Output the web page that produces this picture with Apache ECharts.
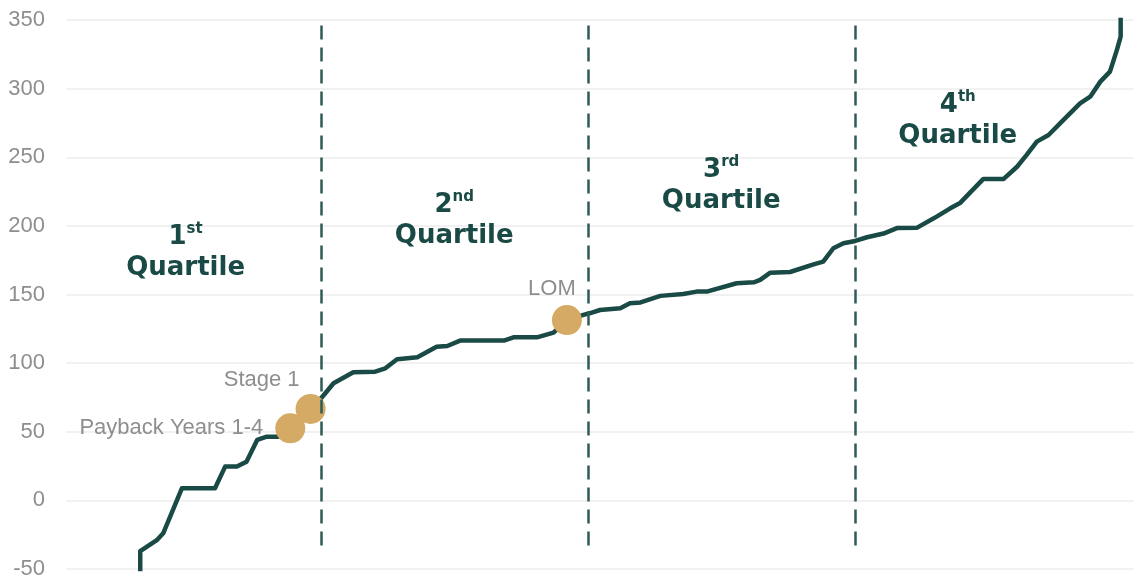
<!DOCTYPE html>
<html>
<head>
<meta charset="utf-8">
<script src="https://cdn.jsdelivr.net/npm/echarts@6/dist/echarts.min.js"></script>
<style>
  html, body { margin: 0; padding: 0; background: #fff; }
  #chart { width: 1134px; height: 583px; }
</style>
</head>
<body>
<div id="chart"></div>
<script>
// cost curve, x = percentile of producers, y = cost
const curveX = [8.05, 8.05, 9.6, 10.2, 11.95, 15.05, 16.0, 17.1, 18.0, 19.0, 19.9, 21.0, 22.1, 24.0,
  25.05, 26.15, 28.0, 30.05, 31.0, 32.1, 34.0, 35.8, 36.8, 38.0, 42.1, 43.0, 45.2, 46.75, 48.0,
  49.55, 50.2, 51.1, 53.0, 53.9, 54.9, 56.75, 58.9, 60.15, 61.1, 63.9, 65.5, 66.1, 67.05, 68.9,
  71.1, 72.0, 72.95, 73.9, 75.0, 76.1, 77.65, 78.9, 80.8, 82.35, 83.9, 84.85, 85.75, 87.0, 88.9,
  90.15, 91.05, 92.0, 93.1, 94.5, 96.05, 97.0, 97.95, 98.85, 99.5, 99.85, 99.85];
const curveY = [-60, -37, -29, -24, 8.8, 8.8, 24.6, 24.6, 28.2, 44, 46.4, 46.4, 52.5, 66.6,
  75, 85.3, 93.4, 93.8, 96.2, 102.8, 104.3, 112, 112.5, 116.4, 116.4, 118.8, 118.8, 122.2, 131.4,
  135.1, 136.5, 138.7, 140, 143.6, 144.2, 149, 150.4, 152.1, 152.1, 158.2, 158.9, 160.6, 165.9, 166.4,
  172, 173.9, 183.7, 187.3, 189, 191.7, 194.4, 198.4, 198.7, 205.5, 212.8, 216.9, 224.2, 234.2, 234.2,
  243.1, 251.7, 261.4, 266.2, 277.2, 289.3, 294.1, 305.1, 312.4, 328.2, 337.9, 370];

const markerNames = ["Payback Years 1-4", "Stage 1", "LOM"];
const markerX = [22.1, 24.0, 48.0];
const markerY = [52.5, 66.6, 131.4];

const quartileLines = [25, 50, 75];
const quartileLineRange = [-38, 346];

const quartileNums = ["1", "2", "3", "4"];
const quartileSups = ["st", "nd", "rd", "th"];
const quartileLabelX = [12.3, 37.45, 62.45, 84.6];
const quartileLabelY = [180.3, 203.6, 229.4, 276.4];

const yTicks = { min: -50, max: 350, interval: 50 };

const DARK = "#1a4a45";
const GOLD = "#d5aa64";
const GREY = "#8e8e8e";

const chart = echarts.init(document.getElementById("chart"), null, { renderer: "canvas" });

const markerLabelStyle = [
  { position: "left", distance: 12, offset: [0, 0] },
  { position: "left", distance: 0, offset: [4, -29] },
  { position: "top", distance: 5, offset: [-15, 0] }
];

const qFont = { fontWeight: "bold", color: DARK, fontFamily: "DejaVu Sans", lineHeight: 31 };

chart.setOption({
  animation: false,
  backgroundColor: "#fff",
  grid: { left: 66, right: 0, top: 20, bottom: 14 },
  xAxis: {
    type: "value",
    min: 1.1,
    max: 101.1,
    show: false
  },
  yAxis: {
    type: "value",
    min: yTicks.min,
    max: yTicks.max,
    interval: yTicks.interval,
    axisLine: { show: false },
    axisTick: { show: false },
    axisLabel: {
      color: GREY,
      fontSize: 22,
      fontFamily: "Liberation Sans, Arial, sans-serif",
      margin: 21
    },
    splitLine: { lineStyle: { color: "#ececec", width: 1.5 } }
  },
  series: [
    {
      type: "line",
      data: curveX.map((x, i) => [x, curveY[i]]),
      showSymbol: false,
      symbol: "none",
      clip: true,
      lineStyle: { color: DARK, width: 4.5, join: "round", cap: "round" },
      markLine: {
        silent: true,
        symbol: "none",
        label: { show: false },
        lineStyle: { color: "#2f5b56", width: 2.5, type: [14, 8], opacity: 1 },
        data: quartileLines.map(x => [
          { coord: [x, quartileLineRange[1]] },
          { coord: [x, quartileLineRange[0]] }
        ])
      },
      z: 2
    },
    {
      type: "scatter",
      symbolSize: 30,
      itemStyle: { color: GOLD, opacity: 1 },
      z: 3,
      data: markerNames.map((name, i) => ({
        name,
        value: [markerX[i], markerY[i]],
        label: {
          show: true,
          formatter: name,
          color: GREY,
          fontSize: 22,
          fontFamily: "Liberation Sans, Arial, sans-serif",
          ...markerLabelStyle[i]
        }
      }))
    },
    {
      type: "scatter",
      symbolSize: 0,
      silent: true,
      itemStyle: { opacity: 1 },
      z: 4,
      data: quartileNums.map((n, i) => ({
        value: [quartileLabelX[i], quartileLabelY[i]],
        label: {
          show: true,
          position: "inside",
          opacity: 1,
          formatter: `{n|${n}}{s|${quartileSups[i]}}\n{q|Quartile}`,
          rich: {
            n: { ...qFont, fontSize: 26 },
            s: { ...qFont, fontSize: 15, verticalAlign: "top" },
            q: { ...qFont, fontSize: 26 }
          }
        }
      }))
    }
  ]
});

window.addEventListener("resize", () => chart.resize());
</script>
</body>
</html>
